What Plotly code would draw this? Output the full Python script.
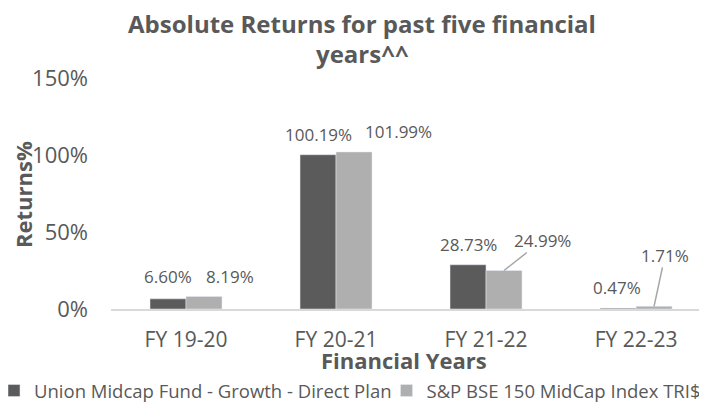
import plotly.graph_objects as go

categories = ["FY 19-20", "FY 20-21", "FY 21-22", "FY 22-23"]
fund_name = "Union Midcap Fund - Growth - Direct Plan"
index_name = "S&P BSE 150 MidCap Index TRI$"
fund_values = [0.0660, 1.0019, 0.2873, 0.0047]
index_values = [0.0819, 1.0199, 0.2499, 0.0171]
y_ticks = [0, 0.5, 1.0, 1.5]
y_tick_labels = ["0%", "50%", "100%", "150%"]
title_lines = ["Absolute Returns for past five financial", "years^^"]

FONT = "Open Sans, sans-serif"
TXT = "#595959"
DARK = "#5b5b5b"
LIGHT = "#afafaf"

# the page body adds an 8px offset, so the figure is sized to fill the rest of the window
W, H = 699, 395
L, R, T, B = 103, 0, 70, 94
PW, PH = W - L - R, H - T - B

fig = go.Figure()
fig.add_trace(go.Bar(x=categories, y=fund_values, name=fund_name, marker_color=DARK, legend="legend"))
fig.add_trace(go.Bar(x=categories, y=index_values, name=index_name, marker_color=LIGHT, legend="legend2"))

# data label offsets: (dx from bar centre, px above bar top)
fund_offsets = [(0, 22), (0, 20), (0, 20), (-1, 21)]
index_offsets = [(26, 20), (44, 20), None, None]
# leader-line labels: (ax, ay) text offset from bar top
index_leaders = [None, None, (38, -30), (11, -51)]
LBL = dict(family=FONT, size=17, color=TXT)
for i, c in enumerate(categories):
    dx, dy = fund_offsets[i]
    fig.add_annotation(x=c, y=fund_values[i], xref="x", yref="y", text=f"{fund_values[i]*100:.2f}%",
                       showarrow=False, xshift=-18 + dx, yshift=dy, yanchor="middle", font=LBL)
    if index_leaders[i] is not None:
        ax, ay = index_leaders[i]
        fig.add_annotation(x=c, y=index_values[i], xref="x", yref="y", text=f"{index_values[i]*100:.2f}%",
                           showarrow=True, arrowhead=0, arrowwidth=1.5, arrowcolor="#a6a6a6",
                           ax=ax, ay=ay, xshift=18, standoff=0, borderpad=0, font=LBL)
    else:
        dx, dy = index_offsets[i]
        fig.add_annotation(x=c, y=index_values[i], xref="x", yref="y", text=f"{index_values[i]*100:.2f}%",
                           showarrow=False, xshift=18 + dx, yshift=dy, yanchor="middle", font=LBL)

# second title line (tighter line spacing than plotly's <br>)
fig.add_annotation(xref="paper", yref="paper", x=(354 - L) / PW, y=(H - B - 46) / PH,
                   text=f"<b>{title_lines[1]}</b>", showarrow=False, xanchor="center", yanchor="middle",
                   font=dict(family=FONT, size=24, color=TXT))

# axis titles
fig.add_annotation(xref="paper", yref="paper", x=(396 - L) / PW, y=(H - B - 352) / PH,
                   text="<b>Financial Years</b>", showarrow=False, yanchor="middle",
                   font=dict(family=FONT, size=22, color=TXT))
fig.add_annotation(xref="paper", yref="paper", x=(15 - L) / PW, y=(H - B - 187) / PH,
                   text="<b>Returns%</b>", showarrow=False, textangle=-90,
                   xanchor="center", yanchor="middle", font=dict(family=FONT, size=22, color=TXT))

fig.update_layout(
    width=W, height=H,
    margin=dict(l=L, r=R, t=T, b=B, autoexpand=False),
    paper_bgcolor="white", plot_bgcolor="white",
    barmode="group", bargap=0.52, bargroupgap=0,
    title=dict(text=f"<b>{title_lines[0]}</b>",
               x=354 / W, xanchor="center", y=1 - 17 / H, yanchor="middle",
               font=dict(family=FONT, size=24, color=TXT)),
    font=dict(family=FONT, color=TXT),
    showlegend=True,
    legend=dict(orientation="h", xref="paper", x=(-14 - L) / PW, xanchor="left",
                yref="container", y=1 - 383 / H, yanchor="middle",
                font=dict(family=FONT, size=18.5, color=TXT), itemwidth=30,
                bgcolor="rgba(0,0,0,0)"),
    legend2=dict(orientation="h", xref="container", x=(420 - 41.5) / W, xanchor="left",
                 yref="container", y=1 - 383 / H, yanchor="middle",
                 font=dict(family=FONT, size=18.5, color=TXT), itemwidth=30,
                 bgcolor="rgba(0,0,0,0)"),
)
fig.update_xaxes(range=[-0.5, 3.473], showline=True, linecolor="#d9d9d9", linewidth=1.5, showgrid=False,
                 ticks="", tickfont=dict(family=FONT, size=21, color=TXT), ticklabelstandoff=11)
fig.update_yaxes(range=[0, 1.5], tickvals=y_ticks, ticktext=y_tick_labels, showgrid=False,
                 zeroline=False, showline=False, ticks="",
                 tickfont=dict(family=FONT, size=22, color=TXT), ticklabelstandoff=22)

fig.write_html("out.html")
